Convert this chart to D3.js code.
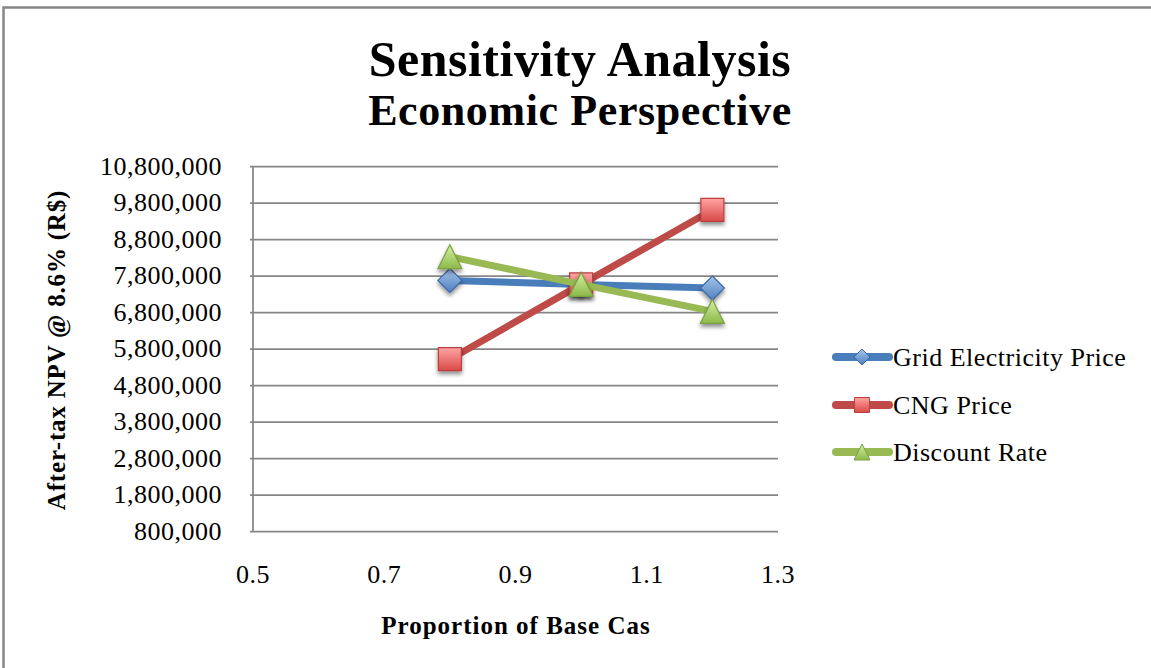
<!DOCTYPE html>
<html>
<head>
<meta charset="utf-8">
<script src="https://cdn.jsdelivr.net/npm/d3@7"></script>
<style>
  html, body { margin: 0; padding: 0; background: #fff; }
  svg { display: block; }
  text { font-family: "Liberation Serif", "Times New Roman", serif; fill: #000; }
</style>
</head>
<body>
<svg id="chart" width="1151" height="668"></svg>
<script>
// Sensitivity inputs (proportion of base case) and resulting after-tax NPV
const proportions = [0.8, 1.0, 1.2];
const gridElectricity = [7680000, 7570000, 7470000];
const cngPrice = [5520000, 7570000, 9610000];
const discountRate = [8330000, 7570000, 6830000];
const seriesNames = ["Grid Electricity Price", "CNG Price", "Discount Rate"];
const xTicks = [0.5, 0.7, 0.9, 1.1, 1.3];
const yTicks = [800000, 1800000, 2800000, 3800000, 4800000, 5800000, 6800000, 7800000, 8800000, 9800000, 10800000];

const svg = d3.select("#chart");
const W = 1151, H = 668;
const plot = { left: 253, right: 778, top: 166.5, bottom: 531.5 };

const x = d3.scaleLinear().domain([0.5, 1.3]).range([plot.left, plot.right]);
const y = d3.scaleLinear().domain([800000, 10800000]).range([plot.bottom, plot.top]);

const defs = svg.append("defs");
const styles = [
  { line: "#4A7EBB", top: "#A7C4EC", bottom: "#4F81BD", edge: "#3C6AA8", shape: "diamond" },
  { line: "#BE4B48", top: "#FFA3A3", bottom: "#D94A47", edge: "#B8413E", shape: "square" },
  { line: "#98B954", top: "#D4F0A3", bottom: "#8DB94A", edge: "#7EA03F", shape: "triangle" }
];
styles.forEach((s, i) => {
  const g = defs.append("linearGradient").attr("id", "grad" + i)
    .attr("x1", 0).attr("y1", 0).attr("x2", 0).attr("y2", 1);
  g.append("stop").attr("offset", "0%").attr("stop-color", s.top);
  g.append("stop").attr("offset", "100%").attr("stop-color", s.bottom);
});
const shadow = defs.append("filter").attr("id", "shadow")
  .attr("x", "-50%").attr("y", "-50%").attr("width", "200%").attr("height", "200%");
shadow.append("feDropShadow").attr("dx", 0).attr("dy", 3).attr("stdDeviation", 2)
  .attr("flood-color", "#000").attr("flood-opacity", 0.45);

// Outer chart border
svg.append("rect").attr("x", 3.5).attr("y", 7.5).attr("width", W + 10).attr("height", H + 10)
  .attr("fill", "none").attr("stroke", "#868686").attr("stroke-width", 2.5);

// Title
svg.append("text").attr("x", 580).attr("y", 76).attr("text-anchor", "middle")
  .attr("font-size", 50).attr("letter-spacing", 0.5).attr("font-weight", "bold")
  .text("Sensitivity Analysis");
svg.append("text").attr("x", 580).attr("y", 125).attr("text-anchor", "middle")
  .attr("font-size", 44).attr("letter-spacing", 0.6).attr("font-weight", "bold")
  .text("Economic Perspective");

// Horizontal gridlines
svg.append("g").selectAll("line").data(yTicks).join("line")
  .attr("x1", plot.left - 3).attr("x2", plot.right)
  .attr("y1", d => y(d)).attr("y2", d => y(d))
  .attr("stroke", "#868686").attr("stroke-width", 1.75);

// Y axis line
svg.append("line").attr("x1", plot.left).attr("x2", plot.left)
  .attr("y1", plot.top).attr("y2", plot.bottom)
  .attr("stroke", "#868686").attr("stroke-width", 1.75);

// Y tick labels
const fmt = d3.format(",");
svg.append("g").selectAll("text").data(yTicks).join("text")
  .attr("x", 222).attr("y", d => y(d) + 8).attr("text-anchor", "end")
  .attr("font-size", 26).attr("letter-spacing", 0.5).text(d => fmt(d));

// X tick labels
svg.append("g").selectAll("text").data(xTicks).join("text")
  .attr("x", d => x(d)).attr("y", 583).attr("text-anchor", "middle")
  .attr("font-size", 26).attr("letter-spacing", 0.5).text(d => d.toFixed(1));

// Axis titles
svg.append("text").attr("x", 516).attr("y", 634).attr("text-anchor", "middle")
  .attr("font-size", 25).attr("letter-spacing", 1).attr("font-weight", "bold")
  .text("Proportion of Base Cas");
svg.append("text").attr("transform", "translate(65,350) rotate(-90)").attr("text-anchor", "middle")
  .attr("font-size", 25).attr("letter-spacing", 0.8).attr("font-weight", "bold")
  .text("After-tax NPV @ 8.6% (R$)");

// Marker drawing
function marker(sel, shape, size) {
  const h = size / 2;
  let d;
  if (shape === "diamond") d = `M0,${-h}L${h},0L0,${h}L${-h},0Z`;
  else if (shape === "square") d = `M${-h},${-h}H${h}V${h}H${-h}Z`;
  else d = `M0,${-h}L${h},${h}H${-h}Z`;
  return sel.append("path").attr("d", d);
}

const allSeries = [gridElectricity, cngPrice, discountRate];
const line = d3.line().x(d => x(d[0])).y(d => y(d[1]));
allSeries.forEach((vals, i) => {
  const s = styles[i];
  const pts = proportions.map((p, k) => [p, vals[k]]);
  const g = svg.append("g");
  g.append("path").datum(pts).attr("d", line)
    .attr("fill", "none").attr("stroke", s.line).attr("stroke-width", 7)
    .attr("stroke-linejoin", "round").attr("stroke-linecap", "round");
  pts.forEach(p => {
    const mg = g.append("g").attr("transform", `translate(${x(p[0])},${y(p[1])})`)
      .attr("filter", "url(#shadow)");
    marker(mg, s.shape, s.shape === "square" ? 23 : 24)
      .attr("fill", `url(#grad${i})`).attr("stroke", s.edge).attr("stroke-width", 1.2);
  });
});

// Legend
const legendY = [357, 405, 452];
seriesNames.forEach((name, i) => {
  const s = styles[i];
  const g = svg.append("g").attr("transform", `translate(0,${legendY[i]})`);
  g.append("line").attr("x1", 836).attr("x2", 889).attr("y1", 0).attr("y2", 0)
    .attr("stroke", s.line).attr("stroke-width", 8).attr("stroke-linecap", "round");
  const mg = g.append("g").attr("transform", "translate(862,0)");
  marker(mg, s.shape, s.shape === "square" ? 15 : 16)
    .attr("fill", `url(#grad${i})`).attr("stroke", s.edge).attr("stroke-width", 1);
  g.append("text").attr("x", 893).attr("y", 9).attr("font-size", 26)
    .attr("letter-spacing", 0.5).text(name);
});
</script>
</body>
</html>
